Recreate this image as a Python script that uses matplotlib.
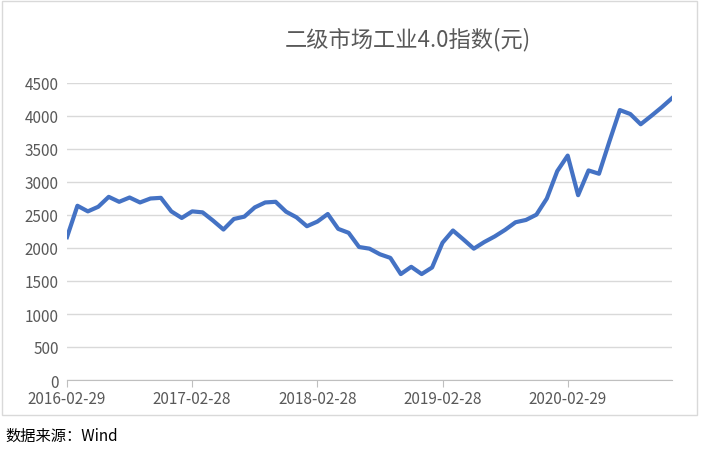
import matplotlib
matplotlib.use("Agg")
import matplotlib.pyplot as plt

plt.rcParams['font.family'] = ['Noto Sans CJK SC', 'DejaVu Sans']

values = [2165, 2640, 2555, 2625, 2775, 2700, 2765, 2690, 2750, 2760,
          2555, 2455, 2555, 2540, 2415, 2280, 2440, 2475, 2615, 2690,
          2700, 2550, 2465, 2330, 2400, 2515, 2290, 2230, 2015, 1990,
          1905, 1850, 1605, 1715, 1605, 1705, 2080, 2265, 2130, 1990,
          2090, 2175, 2275, 2390, 2425, 2505, 2750, 3165, 3400, 2800,
          3175, 3125, 3615, 4090, 4030, 3875, 4000, 4130, 4270]
tick_idx = [0, 12, 24, 36, 48]
tick_labels = ["2016-02-29", "2017-02-28", "2018-02-28", "2019-02-28", "2020-02-29"]
yticks = [0, 500, 1000, 1500, 2000, 2500, 3000, 3500, 4000, 4500]

fig = plt.figure(figsize=(7.02, 4.52), dpi=100)
fig.patches.append(matplotlib.patches.Rectangle((0.003, 0.08), 0.99, 0.915, transform=fig.transFigure,
                                                fill=False, edgecolor='#d9d9d9', lw=1))
ax = fig.add_axes([67/702, 1-381/452, 605/702, 297/452])
ax.plot(range(len(values)), values, color='#4472c4', lw=3, solid_joinstyle='round')
ax.set_xlim(0, 58)
ax.set_ylim(0, 4500)
ax.set_yticks(yticks)
ax.set_yticklabels([str(v) for v in yticks])
ax.set_xticks(tick_idx)
ax.set_xticklabels(tick_labels)
ax.grid(axis='y', color='#d9d9d9', lw=1)
ax.set_axisbelow(True)
for s in ['top', 'right', 'left']:
    ax.spines[s].set_visible(False)
ax.spines['bottom'].set_color('#bfbfbf')
ax.tick_params(axis='y', length=0, labelsize=11, labelcolor='#595959', pad=6)
ax.tick_params(axis='x', length=5, color='#bfbfbf', labelsize=11, labelcolor='#595959', pad=2)
fig.text(408/702, 1-40/452, "二级市场工业4.0指数(元)", ha='center', va='center', fontsize=16, color='#595959')
fig.text(5/702, 1-436/452, "数据来源：Wind", ha='left', va='center', fontsize=11, style='italic', color='black')
fig.savefig("out.png", dpi=100)
